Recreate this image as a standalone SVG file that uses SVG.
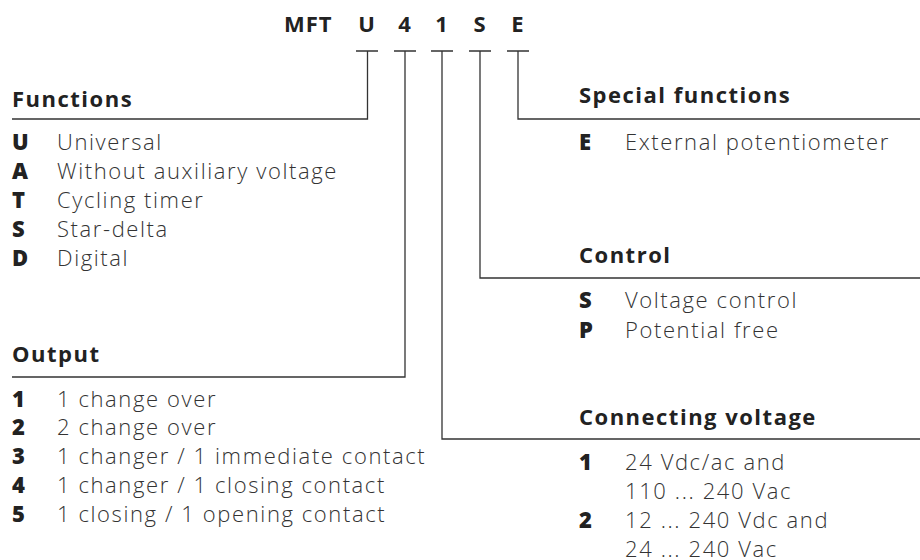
<svg xmlns="http://www.w3.org/2000/svg" width="920" height="560" viewBox="0 0 920 560">
<style>
.bg{fill:#ffffff}
text{font-family:"Open Sans","Noto Sans","Liberation Sans",sans-serif;fill:#222222;font-variant-ligatures:none}
.code{font-size:22px;font-weight:bold;letter-spacing:1px}
.head{font-size:22px;font-weight:bold;letter-spacing:1.5px}
.key{font-size:22px;font-weight:800}
.desc{font-size:22px;font-weight:300;fill:#333333;letter-spacing:1.6px}
.ln{fill:none;stroke:#333333;stroke-width:1.3}
</style>
<rect class="bg" x="0" y="0" width="920" height="560"/>
<g id="code">
<text class="code" x="284" y="32">MFT</text>
<text class="code" x="367" y="32" text-anchor="middle">U</text>
<text class="code" x="405" y="32" text-anchor="middle">4</text>
<text class="code" x="442" y="32" text-anchor="middle">1</text>
<text class="code" x="480" y="32" text-anchor="middle">S</text>
<text class="code" x="518" y="32" text-anchor="middle">E</text>
</g>
<g id="connectors">
<path class="ln" d="M356,51 H378 M367.5,51 V119 H12"/>
<path class="ln" d="M394,51 H416 M405,51 V377 H12"/>
<path class="ln" d="M431,51 H453 M442,51 V439 H920"/>
<path class="ln" d="M469,51 H491 M480,51 V278 H920"/>
<path class="ln" d="M507,51 H529 M518,51 V119 H920"/>
</g>
<g id="functions">
<text class="head" x="12" y="107">Functions</text>
<text class="key" x="12" y="150">U</text><text class="desc" x="57" y="150">Universal</text>
<text class="key" x="12" y="179">A</text><text class="desc" x="57" y="179">Without auxiliary voltage</text>
<text class="key" x="12" y="208">T</text><text class="desc" x="57" y="208">Cycling timer</text>
<text class="key" x="12" y="237">S</text><text class="desc" x="57" y="237">Star-delta</text>
<text class="key" x="12" y="266">D</text><text class="desc" x="57" y="266">Digital</text>
</g>
<g id="output">
<text class="head" x="12" y="362">Output</text>
<text class="key" x="12" y="407">1</text><text class="desc" x="57" y="407">1 change over</text>
<text class="key" x="12" y="435">2</text><text class="desc" x="57" y="435">2 change over</text>
<text class="key" x="12" y="464">3</text><text class="desc" x="57" y="464">1 changer / 1 immediate contact</text>
<text class="key" x="12" y="493">4</text><text class="desc" x="57" y="493">1 changer / 1 closing contact</text>
<text class="key" x="12" y="522">5</text><text class="desc" x="57" y="522">1 closing / 1 opening contact</text>
</g>
<g id="special">
<text class="head" x="579" y="103">Special functions</text>
<text class="key" x="579" y="150">E</text><text class="desc" x="625" y="150">External potentiometer</text>
</g>
<g id="control">
<text class="head" x="579" y="263">Control</text>
<text class="key" x="579" y="308">S</text><text class="desc" x="625" y="308">Voltage control</text>
<text class="key" x="579" y="338">P</text><text class="desc" x="625" y="338">Potential free</text>
</g>
<g id="voltage">
<text class="head" x="579" y="425">Connecting voltage</text>
<text class="key" x="579" y="470">1</text><text class="desc" x="625" y="470">24 Vdc/ac and</text>
<text class="desc" x="625" y="499">110 ... 240 Vac</text>
<text class="key" x="579" y="528">2</text><text class="desc" x="625" y="528">12 ... 240 Vdc and</text>
<text class="desc" x="625" y="557">24 ... 240 Vac</text>
</g>
</svg>
